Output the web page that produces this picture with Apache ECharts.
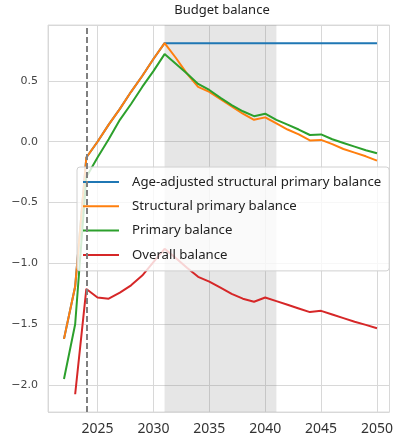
<!DOCTYPE html>
<html>
<head>
<meta charset="utf-8">
<script src="https://cdn.jsdelivr.net/npm/echarts@6/dist/echarts.min.js"></script>
<style>
    html, body { margin: 0; padding: 0; background: #fff; }
    #chart { width: 396px; height: 439px; }
</style>
</head>
<body>
<div id="chart"></div>
<script>
var years = [2022, 2023, 2024, 2025, 2026, 2027, 2028, 2029, 2030, 2031, 2032, 2033, 2034, 2035,
    2036, 2037, 2038, 2039, 2040, 2041, 2042, 2043, 2044, 2045, 2046, 2047, 2048, 2049, 2050];

var ageAdjusted = [-1.62, -1.19, -0.13, 0.0, 0.14, 0.27, 0.41, 0.54, 0.68, 0.81, 0.81, 0.81, 0.81, 0.81,
    0.81, 0.81, 0.81, 0.81, 0.81, 0.81, 0.81, 0.81, 0.81, 0.81, 0.81, 0.81, 0.81, 0.81, 0.81];
var structural = [-1.62, -1.19, -0.13, 0.0, 0.14, 0.27, 0.41, 0.54, 0.68, 0.81, 0.69, 0.56, 0.45, 0.41,
    0.35, 0.29, 0.23, 0.18, 0.20, 0.15, 0.10, 0.06, 0.01, 0.015, -0.02, -0.06, -0.09, -0.12, -0.155];
var primary = [-1.95, -1.50, -0.29, -0.13, 0.02, 0.18, 0.31, 0.45, 0.58, 0.72, 0.64, 0.56, 0.475, 0.425,
    0.36, 0.30, 0.25, 0.21, 0.23, 0.18, 0.14, 0.10, 0.055, 0.06, 0.02, -0.01, -0.04, -0.07, -0.095];
var overall = [null, -2.075, -1.21, -1.28, -1.29, -1.24, -1.18, -1.10, -0.99, -0.88, -0.955, -1.035, -1.11, -1.15,
    -1.20, -1.25, -1.29, -1.315, -1.28, -1.31, -1.34, -1.37, -1.40, -1.39, -1.42, -1.45, -1.48, -1.505, -1.533];

var seriesNames = ['Age-adjusted structural primary balance', 'Structural primary balance', 'Primary balance', 'Overall balance'];
var seriesColors = ['#1f77b4', '#ff7f0e', '#2ca02c', '#d62728'];
var seriesValues = [ageAdjusted, structural, primary, overall];

var shadedYears = [2031, 2041];
var markerYear = 2024;

function pairs(vals) {
    return years.map(function (y, i) { return [y, vals[i]]; });
}

var lineSeries = seriesNames.map(function (name, i) {
    return {
        name: name,
        type: 'line',
        data: pairs(seriesValues[i]),
        symbol: 'none',
        z: 3,
        lineStyle: { color: seriesColors[i], width: 2 },
        itemStyle: { color: seriesColors[i] }
    };
});

// shading + dashed start line
lineSeries.unshift({
    name: 'shade',
    type: 'line',
    data: [],
    z: 1,
    silent: true,
    markArea: {
        silent: true,
        itemStyle: { color: 'rgba(128,128,128,0.2)' },
        data: [[{ xAxis: shadedYears[0] }, { xAxis: shadedYears[1] }]]
    },
    markLine: {
        silent: true,
        symbol: 'none',
        label: { show: false },
        lineStyle: { color: '#808080', type: [6, 3], width: 2 },
        data: [{ xAxis: markerYear }]
    }
});

var chart = echarts.init(document.getElementById('chart'));
chart.setOption({
    animation: false,
    title: {
        text: 'Budget balance',
        left: 222,
        top: 4,
        padding: 0,
        textAlign: 'center',
        textStyle: { fontFamily: 'Noto Sans', fontSize: 13, fontWeight: 'normal', color: '#222' }
    },
    legend: {
        data: seriesNames,
        orient: 'vertical',
        left: 77,
        top: 167,
        padding: [7, 8, 8, 6],
        icon: 'rect',
        itemWidth: 36,
        itemHeight: 2,
        itemGap: 8.3,
        backgroundColor: 'rgba(255,255,255,0.8)',
        borderColor: '#d0d0d0',
        borderWidth: 1,
        borderRadius: 3,
        textStyle: { fontFamily: 'Noto Sans', fontSize: 13.2, lineHeight: 16, color: '#222', padding: [0, 0, 0, 8] }
    },
    grid: {
        left: 48,
        right: 1,
        top: 25,
        bottom: 27,
        show: true,
        borderColor: '#dcdcdc',
        borderWidth: 1
    },
    xAxis: {
        type: 'value',
        min: 2020.57,
        max: 2051.12,
        minInterval: 5,
        maxInterval: 5,
        axisLine: { show: false },
        axisTick: { show: false },
        splitLine: { lineStyle: { color: '#d8d8d8', width: 1 } },
        axisLabel: {
            showMinLabel: false,
            showMaxLabel: false,
            margin: 10,
            fontFamily: 'Noto Sans',
            fontSize: 14,
            color: '#333',
            formatter: function (v) { return v % 5 === 0 ? String(v) : ''; }
        }
    },
    yAxis: {
        type: 'value',
        min: -2.221,
        max: 0.959,
        minInterval: 0.5,
        maxInterval: 0.5,
        axisLine: { show: false },
        axisTick: { show: false },
        splitLine: { lineStyle: { color: '#d8d8d8', width: 1 } },
        axisLabel: {
            showMinLabel: false,
            showMaxLabel: false,
            margin: 10,
            fontFamily: 'DejaVu Sans',
            fontSize: 11,
            color: '#444',
            formatter: function (v) { return v.toFixed(1).replace('-', '\u2212'); }
        }
    },
    series: lineSeries
});
</script>
</body>
</html>
